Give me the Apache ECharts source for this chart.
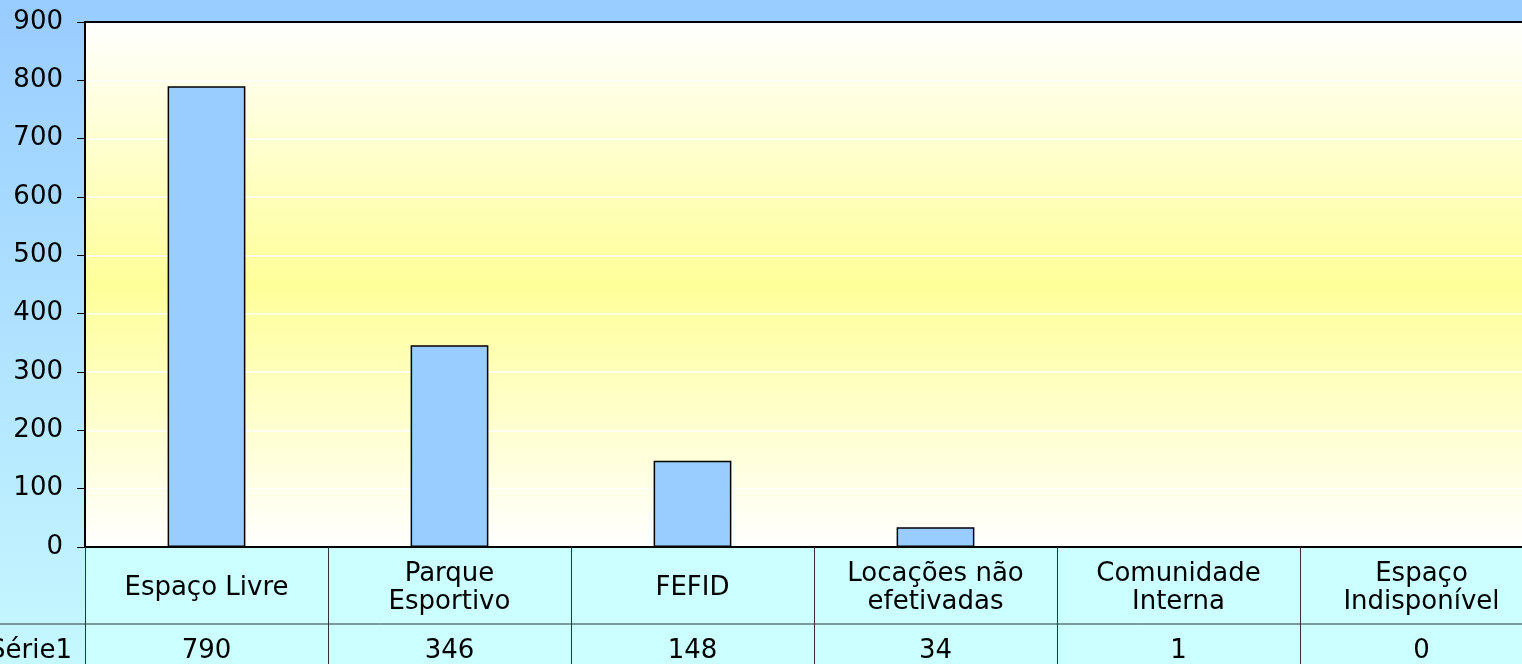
<!DOCTYPE html>
<html>
<head>
<meta charset="utf-8">
<script src="https://cdn.jsdelivr.net/npm/echarts@6/dist/echarts.min.js"></script>
<style>
  html, body { margin: 0; padding: 0; }
  #chart { width: 1522px; height: 664px; }
</style>
</head>
<body>
<div id="chart"></div>
<script>
var chart = echarts.init(document.getElementById('chart'));

// dados
var categorias = ['Espaço Livre', 'Parque\nEsportivo', 'FEFID', 'Locações não\nefetivadas', 'Comunidade\nInterna', 'Espaço\nIndisponível'];
var valores = [790, 346, 148, 34, 1, 0];
var nomeSerie = 'Série1';
var yTicks = [0, 900, 100]; // min, max, intervalo

var fonte = 'DejaVu Sans';

var option = {
    backgroundColor: {
        type: 'linear', x: 0, y: 0, x2: 0, y2: 1,
        colorStops: [{ offset: 0, color: '#99ccff' }, { offset: 1, color: '#c6f8ff' }]
    },
    grid: {
        left: 85,
        top: 22,
        width: 1458, // a área do gráfico passa da borda direita
        bottom: 117,
        outerBoundsMode: 'none',
        show: true,
        borderColor: '#000',
        borderWidth: 2,
        backgroundColor: {
            type: 'linear', x: 0, y: 0, x2: 0, y2: 1,
            colorStops: [
                { offset: 0, color: '#ffffff' },
                { offset: 0.5, color: '#ffff99' },
                { offset: 1, color: '#ffffff' }
            ]
        }
    },
    xAxis: [{
        type: 'category',
        data: categorias,
        position: 'bottom',
        axisLine: { lineStyle: { color: '#000', width: 2 } },
        axisTick: { show: true, length: 117, lineStyle: { color: '#333', width: 1 } },
        axisLabel: {
            color: '#000',
            fontFamily: fonte,
            fontSize: 26,
            lineHeight: 28,
            margin: 41,
            interval: 0,
            verticalAlign: 'middle',
            align: 'center'
        }
    }, {
        type: 'category',
        data: categorias,
        position: 'bottom',
        offset: 77,
        axisLine: { show: false },
        axisTick: { show: false },
        axisLabel: {
            color: '#000',
            fontFamily: fonte,
            fontSize: 26,
            margin: 27,
            interval: 0,
            verticalAlign: 'middle',
            formatter: function (v, i) { return String(valores[i]); }
        }
    }, {
        // borda superior da área do gráfico
        type: 'category',
        data: categorias,
        position: 'top',
        axisLine: { show: true, lineStyle: { color: '#000', width: 2 } },
        axisTick: { show: false },
        axisLabel: { show: false }
    }],
    yAxis: {
        type: 'value',
        min: yTicks[0],
        max: yTicks[1],
        interval: yTicks[2],
        axisLine: { show: true, lineStyle: { color: '#000', width: 2 } },
        axisTick: { show: true, length: 8, lineStyle: { color: '#000' } },
        axisLabel: { color: '#000', fontFamily: fonte, fontSize: 26, margin: 22 },
        splitLine: { lineStyle: { color: '#ffffff', width: 1.5 } }
    },
    graphic: [
        // fundo das células da tabela
        { type: 'rect', z: -1, shape: { x: 85, y: 548, width: 1437, height: 116 }, style: { fill: '#ccffff' } },
        { type: 'line', z: 10, shape: { x1: 0, y1: 624, x2: 1522, y2: 624 }, style: { stroke: '#333', lineWidth: 1 } },
        { type: 'text', z: 10, style: { text: nomeSerie, x: 72, y: 651, align: 'right', verticalAlign: 'middle', font: '26px "DejaVu Sans"', fill: '#000' } }
    ],
    series: [{
        name: nomeSerie,
        type: 'bar',
        data: valores,
        barWidth: '32%',
        itemStyle: { color: '#99ccff', borderColor: '#000', borderWidth: 1.5 }
    }]
};
chart.setOption(option);
</script>
</body>
</html>
